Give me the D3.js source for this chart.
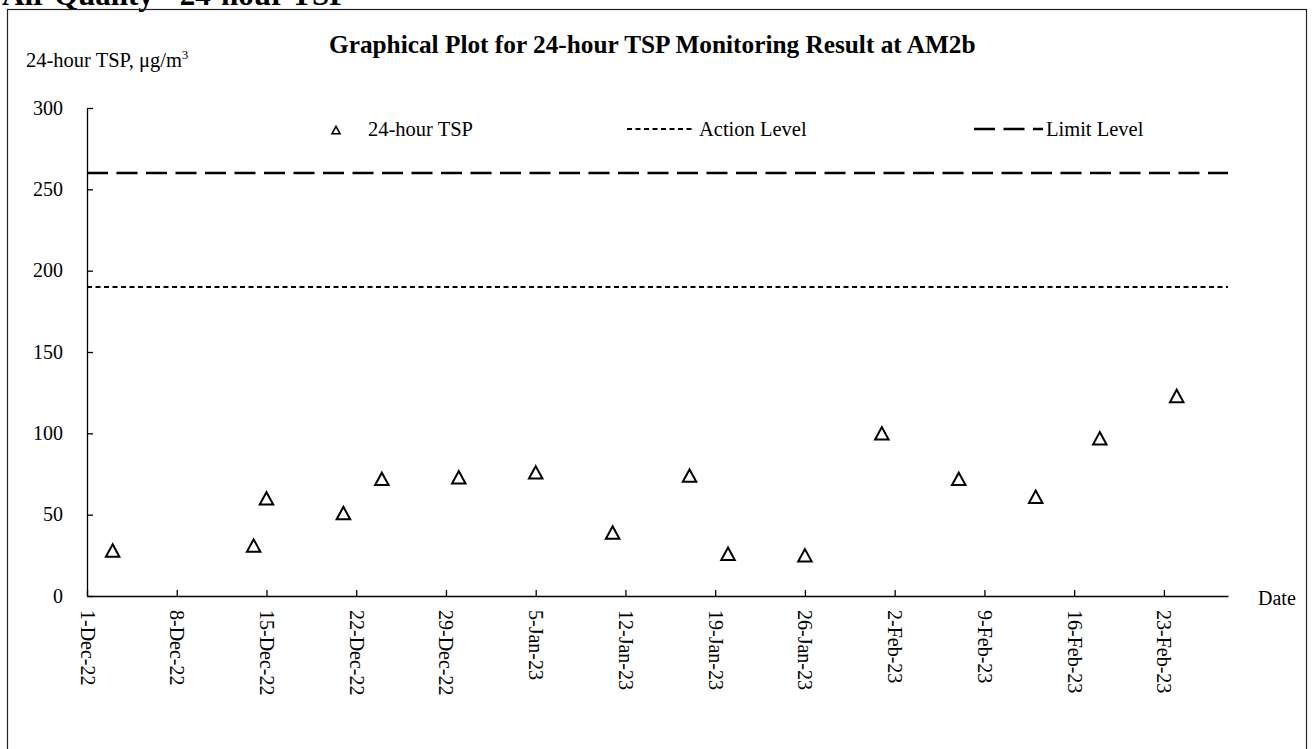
<!DOCTYPE html>
<html>
<head>
<meta charset="utf-8">
<script src="https://cdn.jsdelivr.net/npm/d3@7/dist/d3.min.js"></script>
<style>
  html, body { margin: 0; padding: 0; background: #fff; }
  svg { display: block; font-family: "Liberation Serif", "Times New Roman", serif; }
</style>
</head>
<body>
<svg id="chart" width="1314" height="749"></svg>
<script>
// ---------- data ----------
const sampleDates = ["2022-12-03","2022-12-14","2022-12-15","2022-12-21","2022-12-24","2022-12-30",
  "2023-01-05","2023-01-11","2023-01-17","2023-01-20","2023-01-26","2023-02-01",
  "2023-02-07","2023-02-13","2023-02-18","2023-02-24"];
const tspValues = [28, 31, 60, 51, 72, 73, 76, 39, 74, 26, 25, 100, 72, 61, 97, 123];
const actionLevel = 190;
const limitLevel = 260;
const xTickDates = ["2022-12-01","2022-12-08","2022-12-15","2022-12-22","2022-12-29","2023-01-05",
  "2023-01-12","2023-01-19","2023-01-26","2023-02-02","2023-02-09","2023-02-16","2023-02-23"];
const xDomain = ["2022-12-01","2023-02-28"];
const yTicks = [0, 50, 100, 150, 200, 250, 300];
const yDomain = [0, 300];

// ---------- setup ----------
const parse = d3.utcParse("%Y-%m-%d");
const fmt = d3.utcFormat("%-d-%b-%y");
const svg = d3.select("#chart");

const x = d3.scaleUtc().domain(xDomain.map(parse)).range([87, 1228]);
const y = d3.scaleLinear().domain(yDomain).range([596, 108]);

// header (partially cut at top, as in the reference)
svg.append("text").attr("x", 2).attr("y", 5)
  .attr("font-size", 31).attr("font-weight", "bold").text("Air Quality - 24-hour TSP");

// frame
svg.append("rect").attr("x", 7.5).attr("y", 9.5).attr("width", 1299).attr("height", 760)
  .attr("fill", "none").attr("stroke", "#222").attr("stroke-width", 1.2);

// title
svg.append("text").attr("x", 329).attr("y", 53)
  .attr("font-size", 25.3).attr("font-weight", "bold")
  .text("Graphical Plot for 24-hour TSP Monitoring Result at AM2b");

// y axis title
const yt = svg.append("text").attr("x", 26).attr("y", 67).attr("font-size", 20.5);
yt.append("tspan").text("24-hour TSP, \u03bcg/m");
yt.append("tspan").attr("font-size", 13).attr("dy", -8).text("3");

// axes
const yAxis = d3.axisLeft(y).tickValues(yTicks).tickSizeInner(-6).tickSizeOuter(0).tickPadding(24);
const gy = svg.append("g").attr("transform", `translate(${x.range()[0]},0)`).call(yAxis);
gy.selectAll("text").attr("font-size", 20).attr("font-family", "Liberation Serif").attr("fill", "#000").attr("dy", "0.3em");
gy.selectAll("line, path").attr("stroke", "#000").attr("stroke-width", 1.3);

const xAxis = d3.axisBottom(x).tickValues(xTickDates.map(parse)).tickFormat(fmt)
  .tickSizeInner(-6).tickSizeOuter(0);
const gx = svg.append("g").attr("transform", `translate(0,${y(0)})`).call(xAxis);
gx.selectAll("line, path").attr("stroke", "#000").attr("stroke-width", 1.3);
gx.selectAll("text")
  .attr("font-size", 20).attr("font-family", "Liberation Serif").attr("fill", "#000")
  .attr("transform", "rotate(90)")
  .attr("text-anchor", "start")
  .attr("x", 14).attr("y", 0).attr("dy", "0.35em");

svg.append("text").attr("x", 1258).attr("y", 605).attr("font-size", 20).text("Date");

// level lines
svg.append("line").attr("x1", x.range()[0]).attr("x2", x.range()[1])
  .attr("y1", y(limitLevel)).attr("y2", y(limitLevel))
  .attr("stroke", "#000").attr("stroke-width", 2.6).attr("stroke-dasharray", "21,8.5");
svg.append("line").attr("x1", x.range()[0]).attr("x2", x.range()[1])
  .attr("y1", y(actionLevel)).attr("y2", y(actionLevel))
  .attr("stroke", "#000").attr("stroke-width", 2).attr("stroke-dasharray", "5,3.5");

// triangle symbol centered on its bounding box
const triBox = {
  draw(ctx, size) {
    const w = Math.sqrt(size);
    const h = w * 0.92;
    ctx.moveTo(0, -h / 2);
    ctx.lineTo(w / 2, h / 2);
    ctx.lineTo(-w / 2, h / 2);
    ctx.closePath();
  }
};

const pts = sampleDates.map((d, i) => ({ date: parse(d), v: tspValues[i] }));
svg.append("g").selectAll("path").data(pts).join("path")
  .attr("transform", d => `translate(${x(d.date)},${y(d.v)})`)
  .attr("d", d3.symbol().type(triBox).size(13.5 * 13.5))
  .attr("fill", "#fff").attr("stroke", "#000").attr("stroke-width", 2);

// legend
const lg = svg.append("g");
lg.append("path").attr("transform", "translate(336,130)")
  .attr("d", d3.symbol().type(triBox).size(8 * 8))
  .attr("fill", "#fff").attr("stroke", "#000").attr("stroke-width", 1.6);
lg.append("text").attr("x", 368).attr("y", 136).attr("font-size", 20.5).text("24-hour TSP");
lg.append("line").attr("x1", 627).attr("x2", 695).attr("y1", 129).attr("y2", 129)
  .attr("stroke", "#000").attr("stroke-width", 2).attr("stroke-dasharray", "5,3.5");
lg.append("text").attr("x", 699).attr("y", 136).attr("font-size", 20.5).text("Action Level");
lg.append("line").attr("x1", 974).attr("x2", 1043).attr("y1", 129).attr("y2", 129)
  .attr("stroke", "#000").attr("stroke-width", 2.6).attr("stroke-dasharray", "21,8.5");
lg.append("text").attr("x", 1046).attr("y", 136).attr("font-size", 20.5).text("Limit Level");
</script>
</body>
</html>
